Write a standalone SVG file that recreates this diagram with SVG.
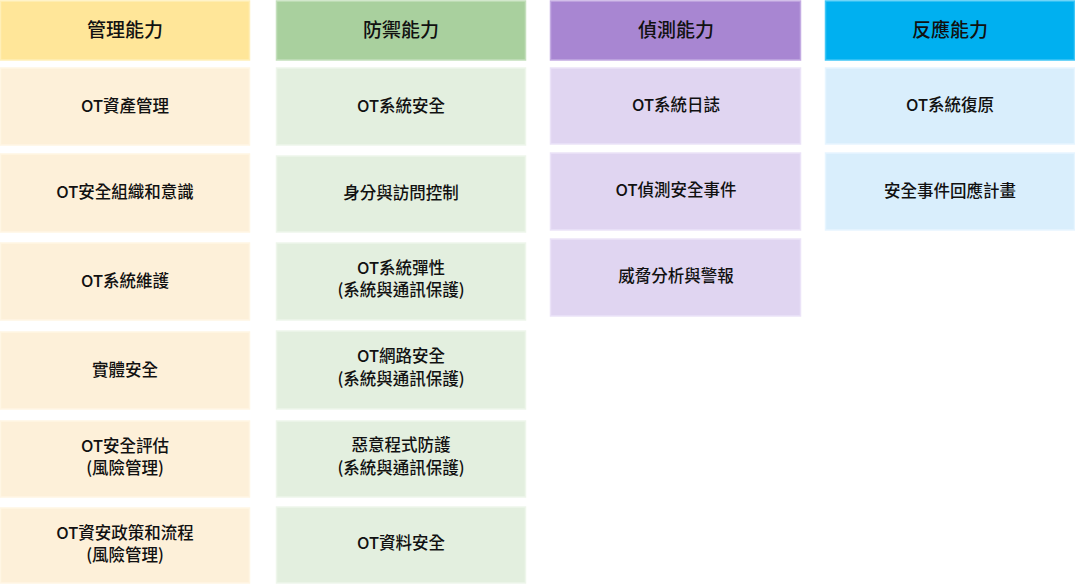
<svg xmlns="http://www.w3.org/2000/svg" width="1075" height="584" viewBox="0 0 1075 584">
<style>
text{font-family:"Noto Sans CJK TC","Noto Sans CJK SC",sans-serif;text-anchor:middle;fill:#111;font-weight:500}
.h{font-size:19px}.t{font-size:16.5px}
.h1{fill:#FFE699;stroke:#FFEFB8}.b1{fill:#FDF0D9;stroke:#FFF6E4}
.h2{fill:#A9D09E;stroke:#C4DFBC}.b2{fill:#E3EFDF;stroke:#EEF6EB}
.h3{fill:#A886D2;stroke:#C3ABE2}.b3{fill:#E0D5F1;stroke:#EBE3F8}
.h4{fill:#00B0F0;stroke:#40C6F6}.b4{fill:#D9EEFC;stroke:#E7F5FF}
rect{stroke-width:1.5}
</style>
<g id="col1">
<g id="h-mgmt"><rect class="h1" x="0.5" y="1" width="249" height="59"/><text class="h" x="125" y="37">管理能力</text></g>
<g id="m1"><rect class="b1" x="0.5" y="68" width="249" height="77"/><text class="t" x="125" y="112">OT資產管理</text></g>
<g id="m2"><rect class="b1" x="0.5" y="154" width="249" height="78"/><text class="t" x="125" y="198">OT安全組織和意識</text></g>
<g id="m3"><rect class="b1" x="0.5" y="243" width="249" height="77"/><text class="t" x="125" y="287">OT系統維護</text></g>
<g id="m4"><rect class="b1" x="0.5" y="332" width="249" height="77"/><text class="t" x="125" y="376">實體安全</text></g>
<g id="m5"><rect class="b1" x="0.5" y="421" width="249" height="76"/><text class="t" x="125" y="452">OT安全評估</text><text class="t" x="125" y="474">(風險管理)</text></g>
<g id="m6"><rect class="b1" x="0.5" y="508" width="249" height="75"/><text class="t" x="125" y="539">OT資安政策和流程</text><text class="t" x="125" y="561">(風險管理)</text></g>
</g>
<g id="col2">
<g id="h-def"><rect class="h2" x="276.5" y="1" width="249" height="59"/><text class="h" x="401" y="37">防禦能力</text></g>
<g id="d1"><rect class="b2" x="276.5" y="68" width="249" height="77"/><text class="t" x="401" y="112">OT系統安全</text></g>
<g id="d2"><rect class="b2" x="276.5" y="156" width="249" height="76"/><text class="t" x="401" y="199">身分與訪問控制</text></g>
<g id="d3"><rect class="b2" x="276.5" y="243" width="249" height="77"/><text class="t" x="401" y="274">OT系統彈性</text><text class="t" x="401" y="296">(系統與通訊保護)</text></g>
<g id="d4"><rect class="b2" x="276.5" y="331" width="249" height="78"/><text class="t" x="401" y="362">OT網路安全</text><text class="t" x="401" y="385">(系統與通訊保護)</text></g>
<g id="d5"><rect class="b2" x="276.5" y="421" width="249" height="76"/><text class="t" x="401" y="451">惡意程式防護</text><text class="t" x="401" y="474">(系統與通訊保護)</text></g>
<g id="d6"><rect class="b2" x="276.5" y="507" width="249" height="76"/><text class="t" x="401" y="549">OT資料安全</text></g>
</g>
<g id="col3">
<g id="h-det"><rect class="h3" x="550.5" y="1" width="250" height="59"/><text class="h" x="676" y="37">偵測能力</text></g>
<g id="t1"><rect class="b3" x="550.5" y="68" width="250" height="76"/><text class="t" x="676" y="111">OT系統日誌</text></g>
<g id="t2"><rect class="b3" x="550.5" y="153" width="250" height="77"/><text class="t" x="676" y="196">OT偵測安全事件</text></g>
<g id="t3"><rect class="b3" x="550.5" y="239" width="250" height="77"/><text class="t" x="676" y="282">威脅分析與警報</text></g>
</g>
<g id="col4">
<g id="h-res"><rect class="h4" x="825.5" y="1" width="249" height="59"/><text class="h" x="950" y="37">反應能力</text></g>
<g id="r1"><rect class="b4" x="825.5" y="68" width="249" height="76"/><text class="t" x="950" y="111">OT系統復原</text></g>
<g id="r2"><rect class="b4" x="825.5" y="153" width="249" height="77"/><text class="t" x="950" y="197">安全事件回應計畫</text></g>
</g>
<g id="connectors"/>
</svg>
